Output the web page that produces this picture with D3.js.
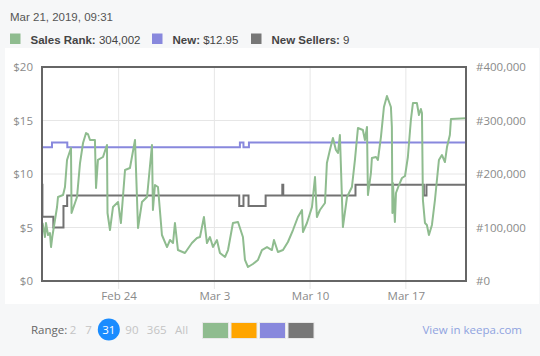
<!DOCTYPE html>
<html><head><meta charset="utf-8">
<script src="https://cdn.jsdelivr.net/npm/d3@7"></script>
<style>
html,body{margin:0;padding:0;background:#f6f7f8;}
svg{display:block;}
</style></head>
<body>
<svg id="c" width="540" height="356"></svg>
<script>
// ---- data ----
const startTime = "2019-02-18T09:31";
const endTime = "2019-03-21T09:31";
const titleText = "Mar 21, 2019, 09:31";
const seriesNames = ["Sales Rank", "New", "New Sellers"];
const seriesCurrent = ["304,002", "$12.95", "9"];
const dateTicks = ["2019-02-24", "2019-03-03", "2019-03-10", "2019-03-17"];
const priceTicks = [0, 5, 10, 15, 20];
const rankTicks = [0, 100000, 200000, 300000, 400000];
const rangeOptions = ["2", "7", "31", "90", "365", "All"];

// days after start
const rankDays = [0.04,0.22,0.29,0.44,0.58,0.66,0.75,1.10,1.17,1.54,1.68,1.83,1.90,2.12,2.16,2.41,2.56,2.78,3.00,3.22,3.36,3.51,3.87,3.95,4.09,4.46,4.75,4.79,4.97,5.19,5.56,5.77,6.07,6.43,6.80,7.02,7.31,7.68,8.04,8.11,8.26,8.48,8.77,9.14,9.36,9.58,9.72,9.94,10.45,10.96,11.33,11.55,11.84,12.06,12.28,12.50,12.79,13.01,13.38,13.60,13.96,14.33,14.69,14.84,15.06,15.42,15.79,16.08,16.45,16.81,16.96,17.25,17.62,17.98,18.35,18.71,19.01,19.08,19.37,19.74,19.96,20.10,20.32,20.69,20.83,21.05,21.27,21.49,21.64,21.78,22.00,22.30,22.66,22.88,23.10,23.46,23.61,23.76,23.83,24.05,24.12,24.42,24.56,24.78,25.00,25.22,25.51,25.58,25.62,25.66,25.80,25.88,26.10,26.32,26.54,26.75,26.97,27.12,27.41,27.56,27.70,27.78,27.85,28.00,28.14,28.29,28.51,28.73,29.02,29.24,29.46,29.61,29.82,29.90,31.0];
const rankValues = [108400,82200,108400,86000,89700,63500,82200,138300,157000,160700,175700,226200,231800,248600,127100,145800,157000,220500,257900,276600,274700,263500,263500,173800,226200,231800,254200,127100,95300,138300,147700,108400,207500,211200,263500,99100,147700,157000,254200,132700,179400,175700,86000,63500,76600,71000,108400,57900,52300,71000,80400,82200,119600,71000,82200,63500,76600,52300,44900,57900,108400,110300,82200,39300,26200,31800,39300,57900,63500,57900,76600,54200,57900,72900,95300,119600,132700,91600,108400,138300,194400,119600,132700,145800,220500,244900,267300,244900,239200,272900,100900,157000,175700,226200,286000,282200,263500,287800,160700,201900,229900,231800,226200,269100,325200,345800,325200,287800,127100,183200,110300,164500,179400,192500,196200,231800,300900,332700,332700,310300,321500,314000,151400,108400,104700,86000,104700,151400,226200,235500,222400,250400,272900,302800,304002];

const newDays = [0, 0.73, 1.85, 14.47, 14.73, 15.13, 31];
const newPrices = [12.49, 12.95, 12.49, 12.95, 12.49, 12.95, 12.95];

const sellerDays = [0, 0.03, 0.83, 1.57, 1.84, 14.42, 14.73, 15.10, 16.35, 17.57, 17.64, 22.92, 27.92, 28.11, 31];
const sellerCounts = [9, 6, 5, 7, 8, 7, 8, 7, 8, 9, 8, 9, 8, 9, 9];

const colors = ["#8fbc8f", "#8888dd", "#727272"];
const swatchColors = ["#8fbc8f", "#ffa500", "#8888dd", "#777777"];

// ---- drawing ----
const svg = d3.select("#c");
const parseT = d3.timeParse("%Y-%m-%dT%H:%M");
const parseD = d3.timeParse("%Y-%m-%d");
const t0 = parseT(startTime), t1 = parseT(endTime);
const dayMs = 86400000;
const toDate = d => new Date(t0.getTime() + d * dayMs);

const L = 42, R = 466, T = 67, B = 281;
const x = d3.scaleTime().domain([t0, t1]).range([L, R]);
const yP = d3.scaleLinear().domain([0, 20]).range([B, T]);
const yR = d3.scaleLinear().domain([0, 400000]).range([B, T]);

// panel
svg.append("rect").attr("x", 5).attr("y", 48).attr("width", 534).attr("height", 256).attr("fill", "#ffffff");

// title
svg.append("text").attr("x", 10).attr("y", 21).text(titleText)
  .attr("font-family", "Liberation Sans, Arial, sans-serif").attr("font-size", 11.5).attr("fill", "#555");

// legend
const legendX = [10, 152, 251];
const legendColors = [colors[0], colors[1], "#777777"];
seriesNames.forEach((n, i) => {
  svg.append("rect").attr("x", legendX[i]).attr("y", 33.5).attr("width", 10.5).attr("height", 10.5).attr("fill", legendColors[i]);
  const t = svg.append("text").attr("x", legendX[i] + 20.5).attr("y", 44)
    .attr("font-family", "Liberation Sans, Arial, sans-serif").attr("font-size", 11.5).attr("fill", "#444");
  t.append("tspan").attr("font-weight", "bold").text(n + ": ");
  t.append("tspan").text(seriesCurrent[i]);
});

// grid
const g = svg.append("g");
const dTicks = dateTicks.map(parseD);
g.selectAll(".vg").data(dTicks).enter().append("line")
  .attr("x1", d => x(d)).attr("x2", d => x(d)).attr("y1", T).attr("y2", B + 8)
  .attr("stroke", "#e6e6e6").attr("stroke-width", 1);
g.selectAll(".hg").data(priceTicks.slice(1, -1)).enter().append("line")
  .attr("x1", L).attr("x2", R).attr("y1", d => yP(d)).attr("y2", d => yP(d))
  .attr("stroke", "#e6e6e6").attr("stroke-width", 1);

const axisFont = "Open Sans, Lato, sans-serif";
// left axis labels
const leftAxis = d3.axisLeft(yP).tickValues(priceTicks).tickFormat(d => "$" + d).tickSize(0).tickPadding(9);
const la = svg.append("g").attr("transform", `translate(${L},0)`).call(leftAxis);
la.select(".domain").remove();
la.selectAll("text").attr("font-family", axisFont).attr("font-size", 11.5).attr("fill", "#8a8a8a");

const rightAxis = d3.axisRight(yR).tickValues(rankTicks).tickFormat(d => "#" + d3.format(",")(d)).tickSize(0).tickPadding(10);
const ra = svg.append("g").attr("transform", `translate(${R},0)`).call(rightAxis);
ra.select(".domain").remove();
ra.selectAll("text").attr("font-family", axisFont).attr("font-size", 11.5).attr("fill", "#8a8a8a");

const bottomAxis = d3.axisBottom(x).tickValues(dTicks).tickFormat(d3.timeFormat("%b %-d")).tickSize(0).tickPadding(11);
const ba = svg.append("g").attr("transform", `translate(0,${B})`).call(bottomAxis);
ba.select(".domain").remove();
ba.selectAll("text").attr("font-family", axisFont).attr("font-size", 11.5).attr("fill", "#8a8a8a");

// clip
svg.append("clipPath").attr("id", "pc").append("rect").attr("x", L).attr("y", T).attr("width", R - L).attr("height", B - T);
const plot = svg.append("g").attr("clip-path", "url(#pc)");

const newData = newDays.map((d, i) => [toDate(d), newPrices[i]]);
plot.append("path").datum(newData)
  .attr("d", d3.line().x(d => x(d[0])).y(d => yP(d[1])).curve(d3.curveStepAfter))
  .attr("fill", "none").attr("stroke", colors[1]).attr("stroke-width", 2);

const selData = sellerDays.map((d, i) => [toDate(d), sellerCounts[i]]);
plot.append("path").datum(selData)
  .attr("d", d3.line().x(d => x(d[0])).y(d => yP(d[1])).curve(d3.curveStepAfter))
  .attr("fill", "none").attr("stroke", colors[2]).attr("stroke-width", 2);

const rankData = rankDays.map((d, i) => [toDate(d), rankValues[i]]);
plot.append("path").datum(rankData)
  .attr("d", d3.line().x(d => x(d[0])).y(d => yR(d[1])))
  .attr("fill", "none").attr("stroke", colors[0]).attr("stroke-width", 2).attr("stroke-linejoin", "round");

// border
svg.append("rect").attr("x", L).attr("y", T).attr("width", R - L).attr("height", B - T)
  .attr("fill", "none").attr("stroke", "#666").attr("stroke-width", 2);

// bottom controls
const ctrlFont = "Open Sans, Lato, sans-serif";
svg.append("text").attr("x", 31).attr("y", 334).text("Range:")
  .attr("font-family", ctrlFont).attr("font-size", 11.5).attr("fill", "#666");
const rangeX = [73, 88.5, 108.8, 131.9, 156.7, 181.5];
rangeOptions.forEach((r, i) => {
  if (r === "31") {
    svg.append("circle").attr("cx", rangeX[i]).attr("cy", 329.5).attr("r", 11).attr("fill", "#1a8cff");
  }
  svg.append("text").attr("x", rangeX[i]).attr("y", 334).attr("text-anchor", "middle").text(r)
    .attr("font-family", ctrlFont).attr("font-size", 11.5)
    .attr("fill", r === "31" ? "#ffffff" : "#c4c4c4");
});
swatchColors.forEach((c, i) => {
  svg.append("rect").attr("x", 202.5 + i * 28.5).attr("y", 322.5).attr("width", 26).attr("height", 16)
    .attr("fill", c).attr("stroke", "#e8e8e8").attr("stroke-width", 1);
});
svg.append("text").attr("x", 522).attr("y", 334).attr("text-anchor", "end").text("View in keepa.com")
  .attr("font-family", ctrlFont).attr("font-size", 11.5).attr("fill", "#8fa3e0");
</script>
</body></html>
